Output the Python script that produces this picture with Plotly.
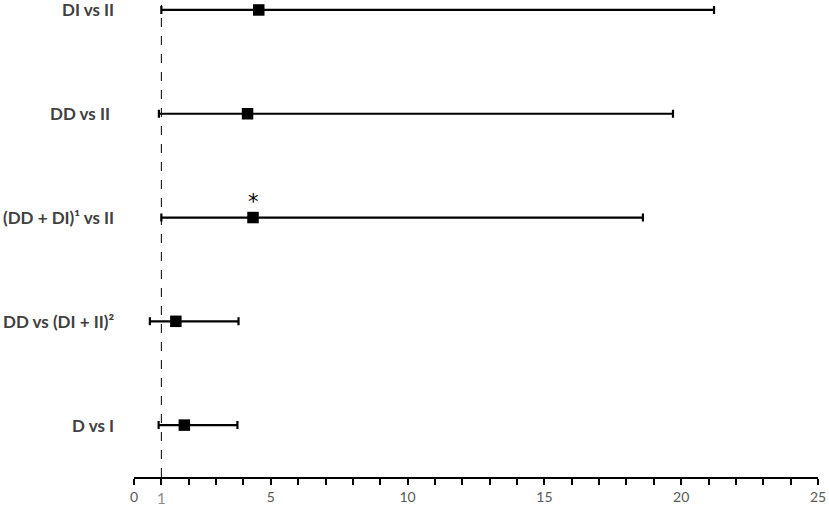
import plotly.graph_objects as go

labels = ["DI vs II", "DD vs II ", "(DD + DI)¹ vs II", "DD vs (DI + II)²", "D vs I"]
estimate = [4.56, 4.15, 4.35, 1.53, 1.84]
lower = [1.00, 0.91, 1.00, 0.58, 0.90]
upper = [21.2, 19.7, 18.6, 3.82, 3.78]
ypos = [5, 4, 3, 2, 1]
x_ticks = list(range(0, 26))
x_labels = [str(v) if v % 5 == 0 else "" for v in x_ticks]

fig = go.Figure()
fig.add_trace(go.Scatter(
    x=estimate, y=ypos, mode="markers",
    marker=dict(symbol="square", size=11.5, color="black"),
    error_x=dict(type="data", symmetric=False,
                 array=[u - e for u, e in zip(upper, estimate)],
                 arrayminus=[e - l for e, l in zip(estimate, lower)],
                 color="black", thickness=2.2, width=4),
    cliponaxis=False, showlegend=False, hoverinfo="skip",
))

fig.add_shape(type="line", x0=1, x1=1, y0=0, y1=0.99, xref="x", yref="paper",
              line=dict(color="black", width=1, dash="dash"))

for lab, yv in zip(labels, ypos):
    fig.add_annotation(x=0, xref="paper", y=yv, yref="y", xanchor="right", xshift=-18,
                       text=lab, showarrow=False,
                       font=dict(size=17, color="#404040", family="Lato", weight="bold"))

fig.add_annotation(x=estimate[2], y=ypos[2], yshift=16, text="*", showarrow=False,
                   font=dict(size=21, color="black", family="DejaVu Sans"))
fig.add_annotation(x=1, y=0, yref="paper", yanchor="top", yshift=-10, text="1", showarrow=False,
                   font=dict(size=15, color="#8c8c8c", family="Lato"))

fig.update_layout(
    width=829, height=506,
    margin=dict(l=134, r=11, t=0, b=29),
    plot_bgcolor="white", paper_bgcolor="white",
    xaxis=dict(range=[0, 25], tickmode="array", tickvals=x_ticks, ticktext=x_labels,
               automargin=False,
               showgrid=False, zeroline=False, showline=True, linecolor="black", linewidth=1.5,
               ticks="outside", ticklen=6, tickcolor="black", tickwidth=1.5,
               tickfont=dict(size=14, color="#595959", family="Lato")),
    yaxis=dict(range=[0.5, 5.096], showticklabels=False, automargin=False,
               showgrid=False, zeroline=False, showline=False, ticks=""),
)

fig.write_html("out.html", config={"displayModeBar": False},
               post_script="document.body.style.margin='0';document.body.style.overflow='hidden';")
